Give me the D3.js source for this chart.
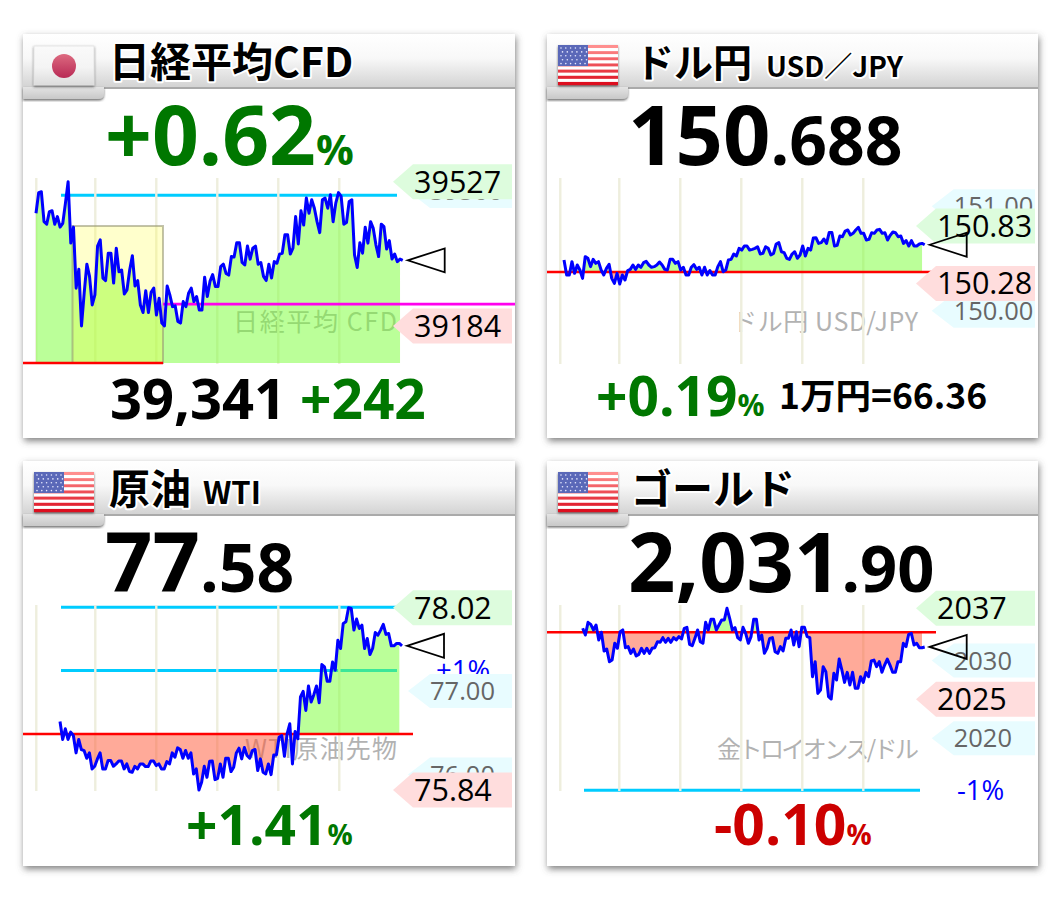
<!DOCTYPE html>
<html lang="ja"><head><meta charset="utf-8">
<script src="https://cdn.jsdelivr.net/npm/d3@7"></script>
<style>html,body{margin:0;padding:0;background:#fff}svg{display:block}</style></head>
<body><svg id="c" width="1053" height="901"></svg>
<script>
// ---- values (price per time step) ----
const nikkeiPrices=[39452,39501,39503,39432,39426,39456,39458,39426,39444,39419,39428,39476,39527,39381,39419,39274,39319,39184,39262,39331,39302,39234,39258,39374,39389,39298,39292,39357,39357,39286,39369,39313,39317,39260,39270,39317,39351,39279,39292,39234,39216,39268,39216,39264,39274,39210,39250,39191,39184,39279,39258,39230,39232,39195,39191,39242,39230,39262,39274,39242,39254,39222,39222,39300,39254,39290,39306,39278,39278,39325,39331,39309,39305,39349,39348,39382,39382,39335,39329,39374,39343,39369,39374,39331,39335,39302,39292,39331,39298,39337,39333,39355,39357,39401,39401,39355,39369,39444,39379,39458,39424,39488,39452,39484,39464,39432,39406,39484,39488,39464,39496,39432,39476,39501,39492,39426,39430,39480,39484,39353,39323,39382,39357,39419,39381,39432,39416,39377,39349,39426,39420,39367,39387,39343,39355,39337,39343,39340];
const usdjpyPrices=[150.505,150.361,150.361,150.489,150.377,150.457,150.409,150.329,150.537,150.521,150.441,150.511,150.473,150.489,150.409,150.361,150.425,150.463,150.329,150.281,150.377,150.275,150.361,150.313,150.403,150.415,150.457,150.415,150.457,150.435,150.479,150.492,150.457,150.435,150.441,150.457,150.486,150.457,150.415,150.409,150.511,150.511,150.473,150.489,150.409,150.435,150.361,150.361,150.435,150.460,150.415,150.435,150.361,150.435,150.361,150.403,150.361,150.361,150.441,150.489,150.393,150.409,150.505,150.511,150.562,150.543,150.616,150.600,150.639,150.639,150.600,150.607,150.616,150.632,150.562,150.568,150.632,150.616,150.553,150.568,150.658,150.671,150.584,150.575,150.521,150.511,150.562,150.584,150.521,150.553,150.639,150.543,150.616,150.600,150.715,150.718,150.664,150.671,150.706,150.664,150.769,150.769,150.639,150.645,150.734,150.728,150.782,150.792,150.744,150.760,150.792,150.817,150.760,150.760,150.696,150.702,150.766,150.760,150.792,150.798,150.760,150.766,150.696,150.741,150.773,150.766,150.728,150.734,150.664,150.690,150.639,150.690,150.639,150.639,150.658,150.664,150.651];
const wtiPrices=[76.660,76.444,76.572,76.444,76.532,76.492,76.284,76.444,76.324,76.312,76.220,76.284,76.092,76.124,76.212,76.284,76.092,76.092,76.192,76.192,76.124,76.152,76.188,76.188,76.092,76.152,76.060,76.052,76.124,76.092,76.152,76.152,76.120,76.120,76.188,76.188,76.132,76.152,76.092,76.092,76.180,76.152,76.284,76.232,76.344,76.324,76.220,76.312,76.220,76.284,76.032,76.092,75.840,75.932,76.124,75.992,76.184,76.188,75.964,75.980,76.152,75.992,76.220,76.220,76.060,76.112,76.284,76.340,76.212,76.348,76.252,76.220,76.312,76.324,76.072,76.212,76.052,76.032,76.152,76.024,76.260,76.260,76.472,76.492,76.244,76.512,76.632,76.152,76.540,76.452,76.952,77.020,76.792,77.084,76.892,76.980,77.084,76.884,77.340,77.312,77.140,77.140,77.372,77.272,77.632,77.532,77.832,77.852,78.020,78.012,77.752,77.884,77.772,77.812,77.532,77.652,77.460,77.532,77.724,77.692,77.752,77.820,77.700,77.712,77.564,77.564,77.592,77.592,77.564];
const goldPrices=[2034.41,2033.55,2035.18,2034.92,2034.20,2034.84,2032.91,2033.90,2031.49,2031.75,2030.12,2030.33,2032.48,2031.84,2033.98,2034.20,2031.92,2032.05,2031.19,2031.75,2030.85,2031.06,2031.84,2031.19,2031.84,2031.19,2031.84,2031.92,2032.69,2032.61,2033.21,2032.61,2033.12,2032.61,2033.21,2032.91,2033.34,2033.04,2034.41,2034.54,2032.35,2032.18,2033.12,2034.20,2032.69,2032.48,2035.18,2034.20,2035.57,2035.57,2034.20,2034.84,2035.48,2035.48,2036.98,2035.70,2034.20,2034.50,2033.21,2032.91,2034.54,2033.77,2032.48,2033.34,2035.57,2035.57,2032.91,2033.55,2031.19,2031.84,2033.12,2033.21,2031.41,2031.19,2032.05,2031.49,2033.12,2033.12,2034.20,2032.26,2033.98,2032.05,2034.54,2034.54,2033.34,2033.21,2028.19,2030.12,2026.04,2026.47,2029.48,2028.83,2025.62,2025.32,2028.62,2027.76,2030.46,2029.05,2027.46,2028.75,2027.12,2028.75,2026.69,2026.69,2028.19,2027.46,2028.75,2028.19,2030.21,2030.33,2029.48,2030.12,2028.75,2029.69,2030.46,2029.69,2028.75,2028.75,2030.12,2030.12,2032.48,2032.05,2033.64,2033.77,2032.26,2032.48,2031.92,2031.92,2032.01];

const prevClose={nikkei:39096,usdjpy:150.39,wti:76.51,gold:2033.9};
const percentLevels={nikkei:[39495],usdjpy:[],wti:[77.27,78.025],gold:[2013.6]};
const dayLabels={nikkei:[[39527,"39527"],[39184,"39184"]],usdjpy:[[150.83,"150.83"],[150.28,"150.28"]],wti:[[78.02,"78.02"],[75.84,"75.84"]],gold:[[2037,"2037"],[2025.3,"2025"]]};
const tickLabels={nikkei:[[39500,"39500"]],usdjpy:[[151,"151.00"],[150,"150.00"]],wti:[[77,"77.00"],[76,"76.00"]],gold:[[2030,"2030"],[2020,"2020"]]};
const hourTicks=[0,1,2,3,4,5];

// ---- layout ----
const panels=[
 {id:"nikkei",data:nikkeiPrices,px:23,py:34,pw:492,ph:404,flag:"jp",
  y:[[39527,39184],[181.7,326]],x0:36,x1:402.7,gridY:[178,364],areaBase:39096,
  title:[{t:"日経平均CFD",x:109,s:41}],
  big:{x:105,y:165,fill:"#007700",parts:[["+0.62",82],["%",42]]},
  low:[{x:110,y:419,fill:"#000",parts:[["39,341",56]]},{x:300,y:419,fill:"#007700",parts:[["+242",55]]}],
  mark:{t:"日経平均 CFD",x:233,y:331,w:164,s:25},redTo:163,magenta:39236},
 {id:"usdjpy",data:usdjpyPrices,px:547,py:34,pw:491,ph:404,flag:"us",
  y:[[150.824,150.275],[226.67,284]],x0:564,x1:924.7,gridY:[178,364],
  title:[{t:"ドル円",x:635,s:39},{t:"USD／JPY",x:766,s:28,w:137}],
  big:{x:628,y:165,fill:"#000",parts:[["150",83],[".688",66]]},
  low:[{x:596,y:416,fill:"#007700",parts:[["+0.19",55],["%",30]]},{x:779,y:409,fill:"#000",parts:[["1万円=66.36",35.5]]}],
  mark:{t:"ドル円 USD/JPY",x:732,y:331,w:186,s:25},redTo:936},
 {id:"wti",data:wtiPrices,px:23,py:461,pw:492,ph:405,flag:"us",
  y:[[78.02,75.84],[607.7,790]],x0:60,x1:402,gridY:[605,791],
  title:[{t:"原油",x:109,s:41},{t:"WTI",x:203,s:31}],
  big:{x:105,y:592,fill:"#000",parts:[["77",83],[".58",66]]},
  low:[{x:186,y:845,fill:"#007700",parts:[["+1.41",55],["%",28]]}],
  mark:{t:"WTI原油先物",x:245,y:758,w:152,s:25},redTo:413,pct:{t:"+1%",v:77.27,x:436}},
 {id:"gold",data:goldPrices,px:547,py:461,pw:491,ph:405,flag:"us",
  y:[[2036.98,2025.32],[608.33,699]],x0:582.7,x1:924.7,gridY:[605,791],
  title:[{t:"ゴールド",x:631,s:41}],
  big:{x:628,y:592,fill:"#000",parts:[["2,031",83],[".90",65]]},
  low:[{x:714,y:845,fill:"#cc0000",parts:[["-0.10",57],["%",28]]}],
  mark:{t:"金トロイオンス/ドル",x:717,y:758,w:202,s:24},redTo:936,pct:{t:"-1%",v:2013.6,x:957}}
];
const SANS='"Open Sans","Noto Sans",sans-serif', CJK='"Noto Sans CJK JP","Open Sans",sans-serif';

const svg=d3.select("#c"), defs=svg.append("defs");
const shadow=defs.append("filter").attr("id","sh").attr("x","-5%").attr("y","-5%").attr("width","110%").attr("height","110%");
shadow.append("feDropShadow").attr("dx",1).attr("dy",3).attr("stdDeviation",3.5).attr("flood-color","#555").attr("flood-opacity",.75);
const soft=defs.append("filter").attr("id","soft").attr("x","-10%").attr("y","-20%").attr("width","120%").attr("height","140%");
soft.append("feDropShadow").attr("dx",0).attr("dy",1.5).attr("stdDeviation",1).attr("flood-color","#333").attr("flood-opacity",.7);
const grad=(id,stops)=>{const g=defs.append("linearGradient").attr("id",id).attr("x1",0).attr("x2",0).attr("y1",0).attr("y2",1);
 stops.forEach(([o,c])=>g.append("stop").attr("offset",o).attr("stop-color",c));};
grad("hdr",[[0,"#ffffff"],[.45,"#f8f8f8"],[1,"#d2d2d2"]]);
grad("tab",[[0,"#e4e4e4"],[1,"#c8c8c8"]]);
grad("jp",[[0,"#fafafa"],[.55,"#f4f4f4"],[1,"#dcdcdc"]]);
grad("sun",[[0,"#dd6a80"],[1,"#b82a55"]]);

function textParts(g,o){
 const t=g.append("text").attr("x",o.x).attr("y",o.y).attr("fill",o.fill)
   .attr("font-family",SANS).attr("font-weight",700);
 o.parts.forEach(([s,size])=>t.append("tspan").attr("font-size",size)
   .attr("font-family",/[^\x00-\x7f]/.test(s)?CJK:SANS).text(s));
}
function flag(g,kind,p){
 const fx=p.px+11, fy=p.py+12, w=60, h=40;
 const f=g.append("g");
 if(kind==="jp"){
  f.append("rect").attr("x",fx).attr("y",fy).attr("width",w).attr("height",h-1).attr("fill","url(#jp)").attr("stroke","#e2e2e2").attr("stroke-width",.8).attr("filter","url(#soft)");
  f.append("circle").attr("cx",fx+30).attr("cy",fy+20).attr("r",12).attr("fill","url(#sun)");
 } else {
  f.append("rect").attr("x",fx).attr("y",fy-1).attr("width",w).attr("height",h).attr("fill","#fff").attr("filter","url(#soft)");
  const sy=d3.scaleBand().domain(d3.range(13)).range([fy-1,fy+h-1]);
  const col=d3.interpolateRgb("#ff8f8f","#dd0f1f");
  d3.range(13).forEach(i=>f.append("rect").attr("x",fx).attr("y",sy(i)).attr("width",w).attr("height",sy.bandwidth()+.2)
    .attr("fill",i%2?"#ffffff":col(i/12)));
  f.append("rect").attr("x",fx).attr("y",fy-1).attr("width",30).attr("height",21).attr("fill","#5a68b8");
  for(let r=0;r<5;r++)for(let c=0;c<6;c++)f.append("circle").attr("cx",fx+3+c*4.8+(r%2)*1.5).attr("cy",fy+2+r*3.9).attr("r",.8).attr("fill","#e8eaff");
 }
}
panels.forEach(p=>{
 const g=svg.append("g");
 const yS=d3.scaleLinear().domain(p.y[0]).range(p.y[1]);
 const xS=d3.scaleLinear().domain([0,p.data.length-1]).range([p.x0,p.x1]);
 const base=p.px+13.3, hS=d3.scaleLinear().domain([0,1,5]).range([base,base+59,base+59+244]);
 const right=p.px+p.pw;

 g.append("rect").attr("x",p.px).attr("y",p.py).attr("width",p.pw).attr("height",p.ph).attr("fill","#fff").attr("filter","url(#sh)");
 // header
 g.append("rect").attr("x",p.px).attr("y",p.py).attr("width",p.pw).attr("height",54).attr("fill","url(#hdr)");
 g.append("rect").attr("x",p.px).attr("y",p.py+53).attr("width",p.pw).attr("height",2).attr("fill","#aaa");
 g.append("path").attr("d",`M${p.px},${p.py+53}H${p.px+81}V${p.py+60}Q${p.px+81},${p.py+65} ${p.px+75},${p.py+65}H${p.px}Z`).attr("fill","url(#tab)").attr("filter","url(#soft)");
 flag(g,p.flag,p);
 p.title.forEach(t=>{const e=g.append("text").attr("x",t.x).attr("y",p.py+43).attr("font-family",CJK).attr("font-weight",700)
   .attr("font-size",t.s).attr("fill","#000").attr("stroke","#fff").attr("stroke-width",4).attr("paint-order","stroke").attr("stroke-linejoin","round").text(t.t);
   if(t.w)e.attr("textLength",t.w);});
 // watermark
 g.append("text").attr("x",p.mark.x).attr("y",p.mark.y).attr("font-family",CJK).attr("font-size",p.mark.s).attr("fill","#b2b2b2")
   .attr("textLength",p.mark.w).text(p.mark.t);
 // percent lines under the grid
 percentLevels[p.id].forEach(v=>g.append("line").attr("x1",p.px===23?61:584).attr("x2",p.px===23?397:920).attr("y1",yS(v)).attr("y2",yS(v)).attr("stroke","#00ccff").attr("stroke-width",3));
 // grid
 hourTicks.forEach(h=>g.append("line").attr("x1",hS(h)).attr("x2",hS(h)).attr("y1",p.gridY[0]).attr("y2",p.gridY[1]).attr("stroke","#eeeedd").attr("stroke-width",2.4));
 // area
 const base0=p.areaBase??prevClose[p.id], by=yS(base0);
 const clipId=k=>`${p.id}-${k}`;
 defs.append("clipPath").attr("id",clipId("up")).append("rect").attr("x",p.px).attr("y",p.py).attr("width",p.pw).attr("height",by-p.py);
 defs.append("clipPath").attr("id",clipId("dn")).append("rect").attr("x",p.px).attr("y",by).attr("width",p.pw).attr("height",p.py+p.ph-by);
 const area=d3.area().x((d,i)=>xS(i)).y0(by).y1(d=>yS(d));
 const fillData=p.data.slice(0,-1);
 g.append("path").attr("d",area(fillData)).attr("fill","rgb(120,255,51)").attr("fill-opacity",.5).attr("clip-path",`url(#${clipId("up")})`);
 g.append("path").attr("d",area(fillData)).attr("fill","rgb(255,85,51)").attr("fill-opacity",.5).attr("clip-path",`url(#${clipId("dn")})`);
 // yellow session box (Nikkei)
 if(p.id==="nikkei"){
  g.append("rect").attr("x",72.5).attr("y",226).attr("width",90.5).attr("height",137).attr("fill","#ffff33").attr("fill-opacity",.25).attr("stroke","#999977").attr("stroke-opacity",.6).attr("stroke-width",2);
 }
 // reference lines
 g.append("line").attr("x1",p.px).attr("x2",p.redTo).attr("y1",by).attr("y2",by).attr("stroke","#ff0000").attr("stroke-width",2.6);
 if(p.magenta) g.append("line").attr("x1",p.redTo).attr("x2",right).attr("y1",yS(p.magenta)).attr("y2",yS(p.magenta)).attr("stroke","#ff00ee").attr("stroke-width",2.6);
 // price line
 const line=d3.line().x((d,i)=>xS(i)).y(d=>yS(d));
 g.append("path").attr("d",line(p.data)).attr("fill","none").attr("stroke","#0000ff").attr("stroke-width",3).attr("stroke-linejoin","round");
 // percent caption
 if(p.pct) g.append("text").attr("x",p.pct.x).attr("y",yS(p.pct.v)+10).attr("font-family",SANS).attr("font-size",27.5).attr("fill","#0000ff").text(p.pct.t);
 // tags
 const tag=(v,txt,kind,dy)=>{
  const big=kind!=="tick", cy=yS(v)+dy, hh=big?17.5:17;
  const tip=p.px===23?(big?393:408):(big?916:931.7), sh=tip+(big?20:22), r=p.px===23?512:1035;
  g.append("path").attr("d",`M${tip},${cy}L${sh},${cy-hh}H${r}V${cy+hh}H${sh}Z`).attr("fill",kind==="tick"?"#e8fcff":kind==="hi"?"#ddfcdd":"#ffdddd");
  g.append("text").attr("x",tip+(big?21:22)).attr("y",cy+(big?11:9)).attr("font-family",SANS).attr("font-size",big?30.5:25.5)
   .attr("fill",big?"#000":"#666").text(txt);
 };
 tickLabels[p.id].forEach(([v,t])=>tag(v,t,"tick",-2));
 dayLabels[p.id].forEach(([v,t],i)=>tag(v,t,i?"lo":"hi",0));
 // current-price marker
 const lx=xS(p.data.length-1)+5, ly=yS(p.data[p.data.length-1]);
 g.append("path").attr("d",`M${lx},${ly}L${lx+37},${ly-12}V${ly+12}Z`).attr("fill","none").attr("stroke","#000").attr("stroke-width",1.8);
 // headline numbers
 textParts(g,p.big);
 p.low.forEach(o=>textParts(g,o));
});
</script></body></html>
